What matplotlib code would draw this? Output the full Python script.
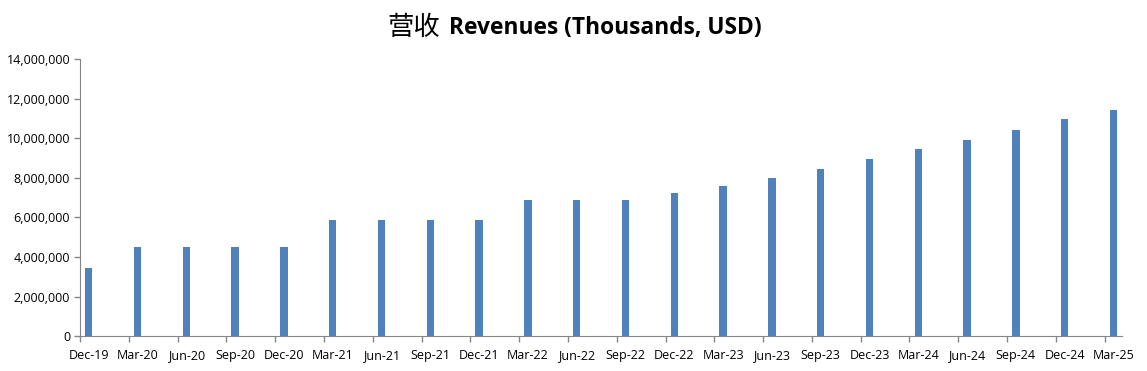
import matplotlib
matplotlib.use("Agg")
import matplotlib.pyplot as plt
import numpy as np

# quarterly revenue, thousands USD
quarters = ["Dec-19", "Mar-20", "Jun-20", "Sep-20", "Dec-20", "Mar-21", "Jun-21",
            "Sep-21", "Dec-21", "Mar-22", "Jun-22", "Sep-22", "Dec-22", "Mar-23",
            "Jun-23", "Sep-23", "Dec-23", "Mar-24", "Jun-24", "Sep-24", "Dec-24", "Mar-25"]
revenues = [3440000, 4500000, 4500000, 4500000, 4500000, 5870000, 5870000,
            5870000, 5870000, 6880000, 6880000, 6880000, 7240000, 7590000,
            8000000, 8450000, 8960000, 9460000, 9920000, 10420000, 10980000, 11440000]

bar_color = "#4F81BD"
axis_color = "#868686"

fig = plt.figure(figsize=(11.47, 3.71), dpi=100)
ax = fig.add_axes([0.0697, 0.094, 0.978 - 0.0697, 0.841 - 0.094])

x = np.arange(len(quarters))
offset = 0.18
ax.bar(x + offset, revenues, width=0.15, color=bar_color)

ax.set_xlim(0, 21.35)
ax.set_ylim(0, 14000000)
yt = np.arange(0, 14000001, 2000000)
ax.set_yticks(yt)
ax.set_yticklabels([f"{v:,.0f}" for v in yt], fontsize=9, family="Open Sans")

# tick marks at the quarter positions, labels under the bars
ax.set_xticks(x)
ax.set_xticklabels([])
ax.set_xticks(x + offset, minor=True)
ax.set_xticklabels(quarters, minor=True, fontsize=9, family="Open Sans")
ax.tick_params(axis="x", which="minor", length=0, pad=9)
ax.tick_params(axis="both", which="major", length=4, color=axis_color, width=1)
ax.tick_params(axis="y", pad=3)

for s in ["top", "right"]:
    ax.spines[s].set_visible(False)
for s in ["left", "bottom"]:
    ax.spines[s].set_color(axis_color)

fig.text(0.361, 0.925, "营收", fontsize=19, family="Noto Sans CJK SC",
         ha="center", va="center")
fig.text(0.528, 0.925, "Revenues (Thousands, USD)", fontsize=16.4, fontweight="bold",
         family="Open Sans", ha="center", va="center")

fig.savefig("out.png", dpi=100)
